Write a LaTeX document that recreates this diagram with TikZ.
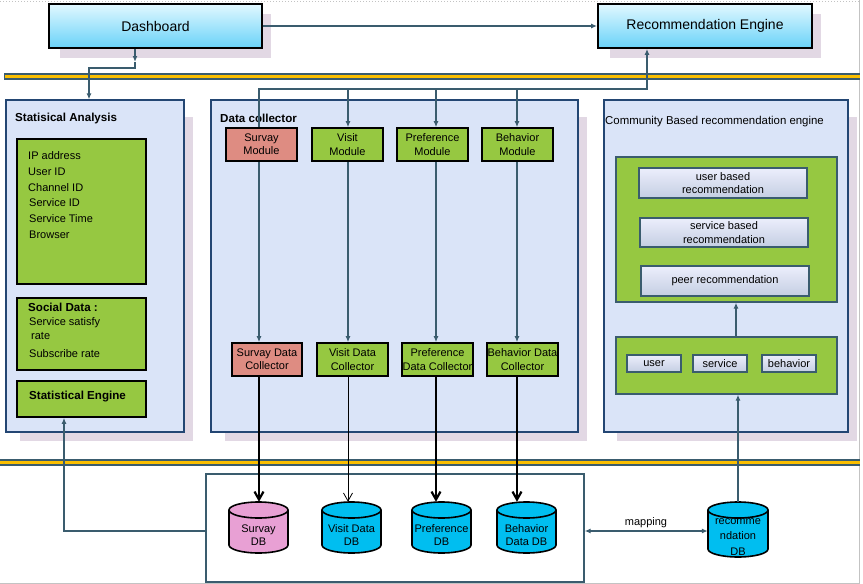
\documentclass[tikz,border=0pt]{standalone}
\usepackage{fontspec}
\setmainfont{Liberation Sans}
\usetikzlibrary{arrows.meta,calc}
\definecolor{teal1}{RGB}{58,92,110}
\definecolor{panelblue}{RGB}{35,70,115}
\definecolor{panelfill}{RGB}{218,228,248}
\definecolor{shadowc}{RGB}{226,216,228}
\definecolor{framec}{RGB}{195,195,195}
\definecolor{grn}{RGB}{150,200,65}
\definecolor{salmon}{RGB}{222,140,130}
\definecolor{topc}{RGB}{225,248,255}
\definecolor{botc}{RGB}{105,210,248}
\definecolor{lav1}{RGB}{236,238,252}
\definecolor{lav2}{RGB}{196,206,226}
\definecolor{barY}{RGB}{250,190,0}
\definecolor{dbpink}{RGB}{232,160,212}
\definecolor{dbcyan}{RGB}{0,190,240}
\tikzset{
 bx/.style args={#1/#2/#3/#4}{at={({(#1+#3)/2},{(#2+#4)/2})}, minimum width={#3-#1}, minimum height={#4-#2}},
 base/.style={inner sep=0pt, font=\fontsize{11}{13.3}\selectfont},
 panel/.style={base, draw=panelblue, line width=1.2pt, fill=panelfill},
 greenbox/.style={base, draw=black, line width=1.6pt, fill=grn},
 module/.style={greenbox, align=center},
 pinkmod/.style={module, fill=salmon},
 topbox/.style={base, draw=black, line width=1.8pt, top color=topc, bottom color=botc, font=\fontsize{14}{16}\selectfont},
 cbox/.style={base, draw=teal1, line width=1.3pt, fill=grn},
 rbox/.style={base, draw=teal1, line width=1.3pt, top color=lav1, bottom color=lav2, align=center},
 conn/.style={draw=teal1, line width=1.2pt},
 arr/.style={-{Latex[length=6pt,width=5pt]}},
 dbline/.style={draw=black, line width=2.2pt, -{Straight Barb[length=8pt,width=9pt]}},
 thindb/.style={draw=black, line width=0.8pt, -{Straight Barb[length=8pt,width=9pt]}},
 txt/.style={base, anchor=west},
 btxt/.style={txt, font=\bfseries\fontsize{11.6}{13}\selectfont},
 cylst/.style={draw=black, line width=1.6pt},
}
\newcommand\mycyl[5]{%
 \filldraw[cylst, fill=#5] ({(#1+#3)/2},#4-8) ellipse[x radius={(#3-#1)/2}, y radius=8];
 \fill[#5] (#1,#2+8) rectangle (#3,#4-8);
 \draw[cylst] (#1,#2+8) -- (#1,#4-8) (#3,#2+8) -- (#3,#4-8);
 \filldraw[cylst, fill=#5] ({(#1+#3)/2},#2+8) ellipse[x radius={(#3-#1)/2}, y radius=8];
}
\begin{document}
\begin{tikzpicture}[x=1pt,y=-1pt]
\useasboundingbox (0,0) rectangle (863,584);
% page frame
\draw[framec, dotted, line width=1pt] (0,1) -- (860,1);
\draw[framec, line width=1pt] (859.5,0) -- (859.5,584);
\draw[framec, line width=1pt] (0,583.5) -- (860,583.5);
% shadows
\fill[shadowc] (60,14) rectangle (271,58);
\fill[shadowc] (610,14) rectangle (821,58);
\fill[shadowc] (20,117) rectangle (193,441);
\fill[shadowc] (225,117) rectangle (587,441);
\fill[shadowc] (617,117) rectangle (857,441);
% top boxes
\node[topbox, bx=49/4/262/48] (dash) {Dashboard};
\node[topbox, bx=598/4/812/48] (rec) {Recommendation Engine};
% bars
\fill[teal1] (4,73) rectangle (860,80);
\fill[barY] (5,75.3) rectangle (860,77.7);
\fill[teal1] (0,459) rectangle (860,466);
\fill[barY] (0,461.3) rectangle (860,463.7);
% panels
\node[panel, bx=6/100/184/432] (sa) {};
\node[panel, bx=211/100/578/432] (dc) {};
\node[panel, bx=604/100/848/432] (cb) {};
\node[btxt] (satitle) at (15,118) {Statisical Analysis};
\node[btxt] (dctitle) at (220,118) {Data collector};
\node[txt, font=\fontsize{11.4}{13}\selectfont] (cbtitle) at (605,122) {Community Based recommendation engine};
% statistical analysis
\node[greenbox, bx=17/139/146/284] (sa1) {};
\node[greenbox, bx=17/298/146/370] (sa2) {};
\node[greenbox, bx=17/381/146/417] (se) {};
\node[txt] (t1) at (28,156) {IP address};
\node[txt] (t2) at (28,172) {User ID};
\node[txt] (t3) at (28,188) {Channel ID};
\node[txt] (t4) at (29,203) {Service ID};
\node[txt] (t5) at (29,219) {Service Time};
\node[txt] (t6) at (29,235) {Browser};
\node[btxt] (t7) at (28,307) {Social Data :};
\node[txt] (t8) at (29,323) {Service satisfy};
\node[txt] (t9) at (31,336) {rate};
\node[txt] (t10) at (29,354) {Subscribe rate};
\node[btxt] (t11) at (29,397) {Statistical Engine};
% data collector
\node[pinkmod, bx=226/128/297/161] (m1) {Survay\\Module};
\node[module, bx=312/128/383/161] (m2) {Visit\\Module};
\node[module, bx=397/128/468/161] (m3) {Preference\\Module};
\node[module, bx=482/128/553/161] (m4) {Behavior\\Module};
\node[pinkmod, bx=232/343/302/376] (k1) {Survay Data\\Collector};
\node[module, bx=317/343/388/376] (k2) {Visit Data\\Collector};
\node[module, bx=402/343/473/376] (k3) {Preference\\Data Collector};
\node[module, bx=487/343/558/376] (k4) {Behavior Data\\Collector};
% community
\node[cbox, bx=616/157/837/302] (ca) {};
\node[rbox, bx=639/168/807/198] (r1) {user based\\recommendation};
\node[rbox, bx=640/218/808/247] (r2) {service based\\recommendation};
\node[rbox, bx=641/266/809/296] (r3) {peer recommendation};
\node[cbox, bx=616/337/837/394] (cbb) {};
\node[rbox, bx=627/355/681/372] (u1) {user};
\node[rbox, bx=693/355/747/372] (u2) {service};
\node[rbox, bx=762/355/816/372] (u3) {behavior};
% database box
\node[draw=teal1, line width=1.3pt, fill=white, inner sep=0pt, bx=206/474/584/582] (dbbox) {};
\mycyl{229}{502}{288}{553}{dbpink}
\mycyl{322}{502}{381}{553}{dbcyan}
\mycyl{412}{502}{471}{553}{dbcyan}
\mycyl{497}{502}{556}{553}{dbcyan}
\mycyl{708}{502}{768}{557}{dbcyan}
\node[inner sep=0pt, bx=229/502/288/553] (db1) {};
\node[inner sep=0pt, bx=322/502/381/553] (db2) {};
\node[inner sep=0pt, bx=412/502/471/553] (db3) {};
\node[inner sep=0pt, bx=497/502/556/553] (db4) {};
\node[inner sep=0pt, bx=708/502/768/557] (rdb) {};
\node[base, align=center] (db1t) at (258.5,535) {Survay\\DB};
\node[base, align=center] (db2t) at (351.5,535) {Visit Data\\DB};
\node[base, align=center] (db3t) at (441.5,535) {Preference\\DB};
\node[base, align=center] (db4t) at (526.5,535) {Behavior\\Data DB};
\node[base, align=center, font=\fontsize{11}{15.5}\selectfont] (rdbt) at (738,537) {recomme\\ndation\\DB};
\node[base] (maplbl) at (646,523) {mapping};
% coordinates
\coordinate (c1) at (259,89);
\coordinate (c2) at (348,89);
\coordinate (c3) at (436,89);
\coordinate (c4) at (517,89);
\coordinate (rb) at (647,89);
\coordinate (d0) at (135,62);
\coordinate (d1) at (135,68);
\coordinate (d2) at (89,68);
\coordinate (s1) at (64,531);
\coordinate (mp) at (708,531);
\coordinate (x1) at (736,0);
\coordinate (x2) at (738,0);
% connectors
\draw[conn,arr] (dash.east) -- (rec.west);
\draw[conn,arr] (dash.south -| d1) -- (d0);
\draw[conn,arr] (d0) -- (d1) -- (d2) -- (sa.north -| d2);
\draw[conn,arr] (m1.north -| c1) -- (c1) -- (rb) -- (rec.south -| rb);
\draw[conn,arr] (c2) -- (m2.north -| c2);
\draw[conn,arr] (c3) -- (m3.north -| c3);
\draw[conn,arr] (c4) -- (m4.north -| c4);
\draw[conn,arr] (m1.south -| c1) -- (k1.north -| c1);
\draw[conn,arr] (m2.south -| c2) -- (k2.north -| c2);
\draw[conn,arr] (m3.south -| c3) -- (k3.north -| c3);
\draw[conn,arr] (m4.south -| c4) -- (k4.north -| c4);
\draw[dbline] (k1.south -| c1) -- (db1.north -| c1);
\draw[thindb] (k2.south -| c2) -- (db2.north -| c2);
\draw[dbline] (k3.south -| c3) -- (db3.north -| c3);
\draw[dbline] (k4.south -| c4) -- (db4.north -| c4);
\draw[conn,arr] (cbb.north -| x1) -- (ca.south -| x1);
\draw[conn,arr] (rdb.north -| x2) -- (cbb.south -| x2);
\draw[conn,{Latex[length=6pt,width=5pt]}-{Latex[length=6pt,width=5pt]}] (dbbox.east |- mp) -- (rdb.west |- mp);
\draw[conn,arr] (dbbox.west |- s1) -- (s1) -- (se.south -| s1);
\end{tikzpicture}
\end{document}
